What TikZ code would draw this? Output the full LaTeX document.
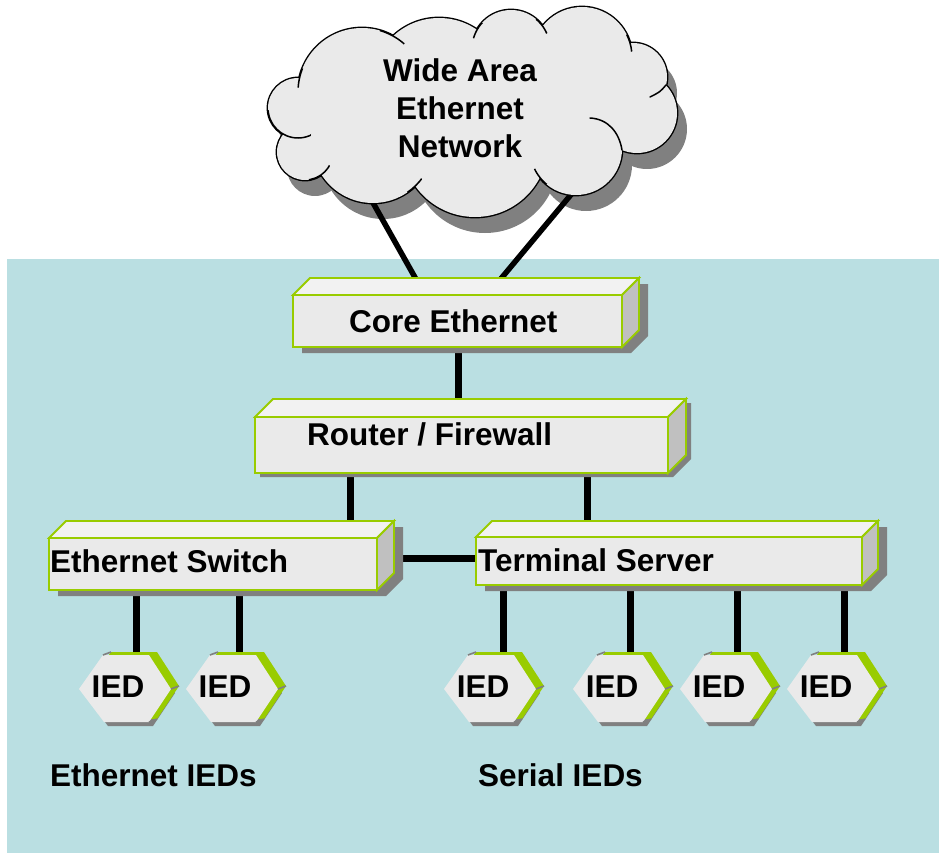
\documentclass[tikz,border=0pt]{standalone}
\usepackage{fontspec}
\setmainfont{Liberation Sans}
\usetikzlibrary{calc}
\definecolor{bgblue}{HTML}{BADFE2}
\definecolor{iedgreen}{HTML}{99CC00}
\definecolor{frontgray}{HTML}{EAEAEA}
\definecolor{topgray}{HTML}{F2F2F2}
\definecolor{sidegray}{HTML}{C0C0C0}
\definecolor{shadowgray}{HTML}{808080}
\definecolor{cloudfill}{HTML}{EAEAEA}
\tikzset{
  lbl/.style={font=\fontsize{31.5}{37}\selectfont\bfseries, inner sep=0pt, text=black},
  wire/.style={line width=7pt, black},
  cloudwire/.style={line width=5.5pt, black},
  crease/.style={line width=1.5pt, black, line cap=round},
  boxedge/.style={draw=iedgreen, line width=1.8pt, line join=miter},
  bevel/.style={draw=shadowgray, line width=1.6pt}
}
\def\cloudshape{(298,108) circle[radius=30pt] (362,92) circle[radius=64pt]
 (439,85) circle[radius=67pt] (511,49) circle[radius=39pt]
 (582,57) circle[radius=50pt] (633,77) circle[radius=34pt]
 (637,113) circle[radius=40pt] (576,149) circle[radius=46pt]
 (475,144) circle[radius=73pt] (373,142) circle[radius=61pt]
 (305,152) circle[radius=28pt]
 (330,130) circle[radius=30pt] (610,110) circle[radius=30pt]
 (470,110) ellipse[x radius=150pt, y radius=60pt]}
% crease: valley x, valley y, clip radius, circle centre x, y, radius
\newcommand\cloudcrease[6]{%
  \begin{scope}
    \clip (#1,#2) circle[radius=#3pt];
    \draw[crease] (#4,#5) circle[radius=#6pt];
  \end{scope}}
\def\hexpath{(-46,0) -- (-22,-34) -- (24,-34) -- (46,0) -- (24,33) -- (-21,33) -- cycle}
% #1 shadow shift, #2 x1, #3 y1, #4 x2, #5 y2, #6 depth
\newcommand\netbox[6][9,6]{%
  \fill[shadowgray, shift={(#1)}] (#2,#5) -- (#2,#3) -- (#2+#6,#3-#6) -- (#4+#6,#3-#6) -- (#4+#6,#5-#6) -- (#4,#5) -- cycle;
  \filldraw[boxedge, fill=topgray] (#2,#3) -- (#2+#6,#3-#6) -- (#4+#6,#3-#6) -- (#4,#3) -- cycle;
  \filldraw[boxedge, fill=sidegray] (#4,#3) -- (#4+#6,#3-#6) -- (#4+#6,#5-#6) -- (#4,#5) -- cycle;
  \filldraw[boxedge, fill=frontgray] (#2,#3) rectangle (#4,#5);
}
% #1 name, #2 cx, #3 cy
\newcommand\iedshape[3]{%
  \fill[shadowgray, shift={(#2+4,#3+4)}] \hexpath;
  \fill[iedgreen, shift={(#2+8,#3-3)}] \hexpath;
  \fill[frontgray, shift={(#2,#3)}] \hexpath;
  \begin{scope}[shift={(#2,#3)}]
    \draw[bevel] (-22,-34) -- (-14,-37);
    \draw[bevel] (46,0) -- (54,-3);
    \draw[bevel] (24,33) -- (32,30);
  \end{scope}
  \node[lbl, anchor=base] (#1) at (#2-7,697) {IED};
}
\begin{document}
\begin{tikzpicture}[x=1pt,y=-1pt]
\useasboundingbox (0,0) rectangle (939,853);
\fill[bgblue] (7,259) rectangle (939,853);

% connection points
\coordinate (cloud-s1) at (363,185);
\coordinate (cloud-s2) at (579,185);
\coordinate (core-n1) at (417,281);
\coordinate (core-n2) at (499,281);
\coordinate (core-s) at (458,340);
\coordinate (router-n) at (458,405);
\coordinate (router-s1) at (350,468);
\coordinate (router-s2) at (587,468);
\coordinate (switch-n) at (350,528);
\coordinate (ts-n) at (587,528);
\coordinate (switch-e) at (390,558);
\coordinate (ts-w) at (480,558);
\foreach \nm/\x in {sw1/136, sw2/239}{
  \coordinate (\nm-up) at (\x,585);
  \coordinate (\nm-dn) at (\x,658);
}
\foreach \nm/\x in {ts1/503, ts2/630, ts3/737, ts4/844}{
  \coordinate (\nm-up) at (\x,580);
  \coordinate (\nm-dn) at (\x,658);
}

% cloud
\fill[shadowgray, shift={(10,16)}] \cloudshape;
\draw[cloudwire] (cloud-s1) -- (core-n1);
\draw[cloudwire] (cloud-s2) -- (core-n2);
\draw[line width=2.8pt, black] \cloudshape;
\fill[cloudfill] \cloudshape;
% creases inside the cloud
\cloudcrease{300}{78}{10}{362}{92}{64}
\cloudcrease{393}{36}{14}{362}{92}{64}
\cloudcrease{477}{30}{9}{511}{49}{39}
\cloudcrease{542}{26}{9}{511}{49}{39}
\cloudcrease{630}{43}{9}{582}{57}{50}
\cloudcrease{540}{177}{10}{576}{149}{46}
\cloudcrease{415}{186}{10}{373}{142}{61}
\cloudcrease{321}{175}{13}{305}{152}{28}
\cloudcrease{283}{134}{28}{298}{108}{30}
\draw[crease] (666,85) .. controls (660,92) .. (650,97);
\draw[crease] (590,118) .. controls (608,119) and (619,132) .. (622,150);
\node[lbl, anchor=base] (wan1) at (460,82) {Wide Area};
\node[lbl, anchor=base] (wan2) at (460,120) {Ethernet};
\node[lbl, anchor=base] (wan3) at (460,158) {Network};

% wires
\draw[wire] (core-s) -- (router-n);
\draw[wire] (router-s1) -- (switch-n);
\draw[wire] (router-s2) -- (ts-n);
\draw[wire] (switch-e) -- (ts-w);
\foreach \nm in {sw1, sw2, ts1, ts2, ts3, ts4}{
  \draw[wire] (\nm-up) -- (\nm-dn);
}

% boxes
\netbox{293}{295}{622}{347}{17}
\node[lbl, anchor=base west] (core) at (349,332) {Core Ethernet};
\netbox[5,4]{255}{417}{668}{473}{18}
\node[lbl, anchor=base west] (router) at (307,445) {Router / Firewall};
\netbox{49}{538}{377}{590}{17}
\node[lbl, anchor=base west] (switch) at (50,572) {Ethernet Switch};
\netbox{476}{537}{862}{585}{16}
\node[lbl, anchor=base west] (tserver) at (478,571) {Terminal Server};

% IEDs
\iedshape{ied1}{125}{689}
\iedshape{ied2}{232}{689}
\iedshape{ied3}{490}{689}
\iedshape{ied4}{619}{689}
\iedshape{ied5}{726}{689}
\iedshape{ied6}{833}{689}

\node[lbl, anchor=base west] (ethieds) at (50,786) {Ethernet IEDs};
\node[lbl, anchor=base west] (serieds) at (478,786) {Serial IEDs};
\end{tikzpicture}
\end{document}
